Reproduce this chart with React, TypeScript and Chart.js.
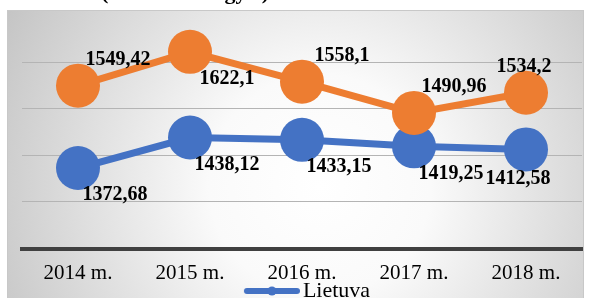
import React, { useEffect, useRef } from "react";
import { Chart, registerables } from "chart.js";

Chart.register(...registerables);

// ---- data ----
const categories = ["2014 m.", "2015 m.", "2016 m.", "2017 m.", "2018 m."];
const lietuvaValues = [1372.68, 1438.12, 1433.15, 1419.25, 1412.58];
const otherValues = [1549.42, 1622.1, 1558.1, 1490.96, 1534.2];
const lietuvaLabelPos = ["below-right", "below-right", "below-right", "below-right", "below"];
const otherLabelPos = ["above-right", "below-right", "above-right", "above-right", "above"];
const yMin = 1200;
const yMax = 1700;
const yStep = 100;
const titleText = "(Eur vienam gyv.)";

// ---- styles ----
const BLUE = "#4472C4";
const ORANGE = "#ED7D31";
const SERIF = "'Liberation Serif', 'Times New Roman', serif";

const labelOffsets: Record<string, [number, number]> = {
  "above-right": [40, -26],
  "below-right": [37, 27],
  above: [-2, -26],
  below: [-8, 29],
};

const fmt = (v: number) => String(v).replace(".", ",");

const backgroundPlugin = {
  id: "bgBox",
  beforeDraw(chart: any) {
    const { ctx, width, height } = chart;
    ctx.save();
    ctx.fillStyle = "#ffffff";
    ctx.fillRect(0, 0, width, height);
    // title fragment (cut by the top of the picture)
    ctx.fillStyle = "#000";
    ctx.font = `bold 22px ${SERIF}`;
    ctx.textBaseline = "alphabetic";
    ctx.textAlign = "left";
    ctx.fillText(titleText, 101, -1.5);
    // box with radial gradient
    const bx = 7, by = 10, bw = 577, bh = height;
    const g = ctx.createRadialGradient(320, 185, 0, 320, 185, 370);
    g.addColorStop(0, "#ffffff");
    g.addColorStop(0.3, "#fafafa");
    g.addColorStop(1, "#c2c2c2");
    ctx.fillStyle = g;
    ctx.fillRect(bx, by, bw, bh);
    ctx.strokeStyle = "#c8c8c8";
    ctx.lineWidth = 1;
    ctx.strokeRect(bx + 0.5, by + 0.5, bw - 1, bh);
    ctx.restore();
  },
};

const dataLabelPlugin = {
  id: "valueLabels",
  afterDatasetsDraw(chart: any) {
    const { ctx } = chart;
    ctx.save();
    ctx.font = `bold 20px ${SERIF}`;
    ctx.fillStyle = "#000";
    ctx.textAlign = "center";
    ctx.textBaseline = "middle";
    chart.data.datasets.forEach((ds: any, di: number) => {
      const meta = chart.getDatasetMeta(di);
      const pos: string[] = ds.labelPos;
      meta.data.forEach((pt: any, i: number) => {
        const [dx, dy] = labelOffsets[pos[i]];
        ctx.fillText(fmt(ds.data[i]), pt.x + dx, pt.y + dy);
      });
    });
    ctx.restore();
  },
};

export default function App() {
  const ref = useRef<HTMLCanvasElement>(null);

  useEffect(() => {
    const canvas = ref.current!;
    const legendImg = document.createElement("canvas");
    legendImg.width = 74;
    legendImg.height = 14;
    const lc = legendImg.getContext("2d")!;
    lc.strokeStyle = BLUE;
    lc.lineWidth = 6;
    lc.lineCap = "round";
    lc.beginPath();
    lc.moveTo(21, 7);
    lc.lineTo(71, 7);
    lc.stroke();
    lc.fillStyle = BLUE;
    lc.beginPath();
    lc.arc(46, 7, 4.5, 0, Math.PI * 2);
    lc.fill();

    const chart = new Chart(canvas, {
      type: "line",
      data: {
        labels: categories,
        datasets: [
          {
            label: "Lietuva",
            data: lietuvaValues,
            labelPos: lietuvaLabelPos,
            borderColor: BLUE,
            backgroundColor: BLUE,
            borderWidth: 7,
            pointRadius: 22,
            pointHoverRadius: 22,
            pointBorderWidth: 0,
            pointBackgroundColor: BLUE,
            tension: 0,
            order: 1,
            clip: false,
          } as any,
          {
            label: "Kita",
            data: otherValues,
            labelPos: otherLabelPos,
            borderColor: ORANGE,
            backgroundColor: ORANGE,
            borderWidth: 7,
            pointRadius: 22,
            pointHoverRadius: 22,
            pointBorderWidth: 0,
            pointBackgroundColor: ORANGE,
            tension: 0,
            order: 0,
            clip: false,
          } as any,
        ],
      },
      options: {
        responsive: false,
        animation: false,
        devicePixelRatio: 1,
        events: [],
        layout: { autoPadding: false, padding: { top: 15.5, left: 22, right: 7, bottom: 0 } },
        plugins: {
          legend: {
            position: "bottom",
            labels: {
              filter: (item: any) => item.text === "Lietuva",
              usePointStyle: true,
              pointStyle: legendImg as any,
              pointStyleWidth: 58,
              padding: -1,
              color: "#000",
              font: { family: SERIF, size: 22 },
            },
          },
          tooltip: { enabled: false },
          title: { display: false },
        },
        scales: {
          x: {
            type: "category",
            offset: true,
            grid: { display: false, drawTicks: false },
            border: { display: true, color: "#404040", width: 4 },
            ticks: {
              padding: 12,
              color: "#000",
              font: { family: SERIF, size: 21 },
              maxRotation: 0,
              autoSkip: false,
            },
            afterFit: (s: any) => {
              s.height = 32.5;
            },
          },
          y: {
            min: yMin,
            max: yMax,
            ticks: { display: false, stepSize: yStep },
            grid: {
              drawTicks: false,
              lineWidth: 1,
              color: (c: any) =>
                c.tick && (c.tick.value === yMax || c.tick.value === yMin)
                  ? "rgba(0,0,0,0)"
                  : "#b4b4b4",
            },
            border: { display: false },
            afterFit: (s: any) => {
              s.width = 0;
            },
          },
        },
      } as any,
      plugins: [backgroundPlugin, dataLabelPlugin],
    });
    return () => chart.destroy();
  }, []);

  return (
    <div
      style={{
        position: "absolute",
        left: 0,
        top: 0,
        width: 589,
        height: 298,
        overflow: "hidden",
        background: "#fff",
      }}
    >
      <canvas ref={ref} width={589} height={312} style={{ display: "block", width: 589, height: 312 }} />
    </div>
  );
}
